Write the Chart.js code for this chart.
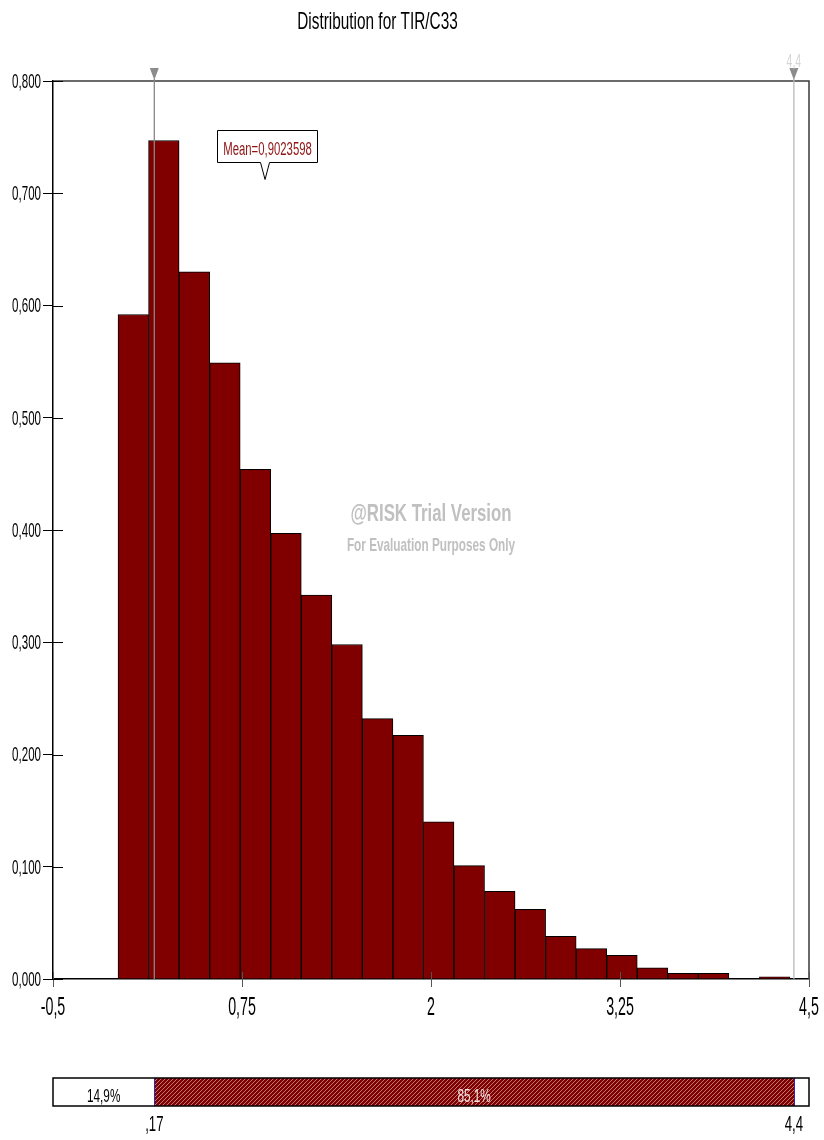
<!DOCTYPE html>
<html>
<head>
<meta charset="utf-8">
<title>Distribution for TIR/C33</title>
<script src="https://cdn.jsdelivr.net/npm/chart.js@4/dist/chart.umd.min.js"></script>
<style>
  html, body { margin: 0; padding: 0; background: #fff; }
  #wrap { position: relative; width: 824px; height: 1140px; }
  #hist { position: absolute; left: 0; top: 0; }
  #band { position: absolute; left: 0; top: 1040px; }
</style>
</head>
<body>
<div id="wrap">
  <canvas id="hist" width="824" height="1040"></canvas>
  <canvas id="band" width="824" height="100"></canvas>
</div>
<script>
// ---- histogram data (relative frequency per bin) ----
const binEdges = [-0.07, 0.132, 0.334, 0.536, 0.738, 0.94, 1.142, 1.344, 1.546, 1.748, 1.95,
                  2.152, 2.354, 2.556, 2.758, 2.96, 3.162, 3.364, 3.566, 3.768, 3.97, 4.172, 4.374];
const binDensity = [0.592, 0.747, 0.630, 0.549, 0.454, 0.397, 0.342, 0.298, 0.232, 0.217, 0.140,
                    0.101, 0.078, 0.062, 0.038, 0.027, 0.021, 0.010, 0.005, 0.005, 0.000, 0.002];

// ---- axes ----
const xTickValues = [-0.5, 0.75, 2, 3.25, 4.5];
const xTickLabels = ['-0,5', '0,75', '2', '3,25', '4,5'];
const yTickStep = 0.1;

// ---- summary statistics ----
const meanValue = 0.9023598;
const meanLabel = 'Mean=0,9023598';
const leftDelimiter = 0.17;
const rightDelimiter = 4.4;
const delimiterLabels = [',17', '4,4'];
const bandEdges = [-0.5, 0.17, 4.4, 4.5];
const bandPercent = [14.9, 85.1, 0];

const titleText = 'Distribution for TIR/C33';
const watermarkLines = ['@RISK Trial Version', 'For Evaluation Purposes Only'];

const FONT = "'Liberation Sans', Arial, sans-serif";
const BAR_FILL = '#800000';

// Draws horizontally compressed text (the report uses a narrow face).
function squeezeText(ctx, text, x, y, opt) {
  ctx.save();
  ctx.font = (opt.bold ? 'bold ' : '') + opt.size + 'px ' + FONT;
  ctx.fillStyle = opt.color || '#000';
  ctx.textAlign = opt.align || 'center';
  ctx.textBaseline = opt.baseline || 'alphabetic';
  ctx.translate(x, y);
  ctx.scale(opt.sx || 1, 1);
  ctx.fillText(text, 0, 0);
  ctx.restore();
}

function fmtPercent(p) { return p.toFixed(1).replace('.', ',') + '%'; }

// Diagonal hatch used for the central band segment.
function hatchPattern(ctx) {
  const s = 4;
  const c = document.createElement('canvas');
  c.width = s; c.height = s;
  const g = c.getContext('2d');
  g.fillStyle = BAR_FILL;
  g.fillRect(0, 0, s, s);
  g.strokeStyle = 'rgba(215,170,170,0.9)';
  g.lineWidth = 0.8;
  g.beginPath();
  g.moveTo(0, s); g.lineTo(s, 0);
  g.moveTo(-1, 1); g.lineTo(1, -1);
  g.moveTo(s - 1, s + 1); g.lineTo(s + 1, s - 1);
  g.stroke();
  return ctx.createPattern(c, 'repeat');
}

const histDecor = {
  id: 'histDecor',
  afterDatasetsDraw(chart) {
    const { ctx, chartArea: a } = chart;
    const xs = chart.scales.x, ys = chart.scales.y;
    ctx.save();

    // frame on top and right
    ctx.strokeStyle = '#3a3a3a';
    ctx.lineWidth = 1.5;
    ctx.beginPath();
    ctx.moveTo(a.left, a.top);
    ctx.lineTo(a.right, a.top);
    ctx.lineTo(a.right, a.bottom);
    ctx.stroke();

    // tick marks crossing into the plot
    ctx.strokeStyle = '#000';
    ctx.lineWidth = 1;
    ys.ticks.forEach(t => {
      const py = Math.round(ys.getPixelForValue(t.value)) + 0.5;
      ctx.beginPath(); ctx.moveTo(a.left, py); ctx.lineTo(a.left + 10, py); ctx.stroke();
    });
    ctx.strokeStyle = '#555';
    xs.ticks.forEach(t => {
      const px = Math.round(xs.getPixelForValue(t.value)) + 0.5;
      ctx.beginPath(); ctx.moveTo(px, a.bottom); ctx.lineTo(px, a.bottom - 7); ctx.stroke();
    });

    // delimiter lines with their markers
    [[leftDelimiter, '#878787'], [rightDelimiter, '#b8b8b8']].forEach(([v, col]) => {
      const px = xs.getPixelForValue(v);
      ctx.strokeStyle = col;
      ctx.lineWidth = 1.3;
      ctx.beginPath(); ctx.moveTo(px, a.top - 2); ctx.lineTo(px, a.bottom); ctx.stroke();
      ctx.fillStyle = '#8c8c8c';
      ctx.beginPath();
      ctx.moveTo(px - 4.5, a.top - 13);
      ctx.lineTo(px + 4.5, a.top - 13);
      ctx.lineTo(px, a.top - 1);
      ctx.closePath();
      ctx.fill();
    });
    squeezeText(ctx, delimiterLabels[1], xs.getPixelForValue(rightDelimiter), a.top - 14,
      { size: 19, sx: 0.55, color: '#d4d4d4' });

    // watermark
    const cx = (a.left + a.right) / 2, cy = (a.top + a.bottom) / 2;
    squeezeText(ctx, watermarkLines[0], cx, cy - 9, { size: 24, sx: 0.7, bold: true, color: '#c0c0c0' });
    squeezeText(ctx, watermarkLines[1], cx, cy + 21, { size: 19, sx: 0.62, bold: true, color: '#c0c0c0' });

    // mean callout
    const m = xs.getPixelForValue(meanValue);
    const bl = Math.round(m - 48) + 0.5, br = Math.round(m + 52) + 0.5;
    const bt = a.top + 49.5, bb = a.top + 81.5;
    ctx.fillStyle = '#fff';
    ctx.strokeStyle = '#000';
    ctx.lineWidth = 1;
    ctx.beginPath();
    ctx.moveTo(bl, bt); ctx.lineTo(br, bt); ctx.lineTo(br, bb);
    ctx.lineTo(m + 4.5, bb); ctx.lineTo(m, bb + 17); ctx.lineTo(m - 4.5, bb);
    ctx.lineTo(bl, bb); ctx.closePath();
    ctx.fill(); ctx.stroke();
    squeezeText(ctx, meanLabel, (bl + br) / 2, bt + 24, { size: 18, sx: 0.63, color: '#8e1414' });

    ctx.restore();
  },
  afterDraw(chart) {
    const { ctx, chartArea: a } = chart;
    const xs = chart.scales.x, ys = chart.scales.y;
    // y tick labels
    ys.ticks.forEach(t => {
      squeezeText(ctx, t.value.toFixed(3).replace('.', ','), a.left - 12, ys.getPixelForValue(t.value) + 1,
        { size: 21, sx: 0.55, align: 'right', baseline: 'middle' });
    });
    // x tick labels
    xs.ticks.forEach(t => {
      const i = xTickValues.indexOf(t.value);
      squeezeText(ctx, xTickLabels[i], xs.getPixelForValue(t.value), a.bottom + 36,
        { size: 25, sx: 0.57 });
    });
    // title
    squeezeText(ctx, titleText, 377.5, 29, { size: 24, sx: 0.64 });
  }
};

const histCanvas = document.getElementById('hist');
new Chart(histCanvas, {
  type: 'bar',
  data: {
    datasets: [{
      data: binDensity.map((v, i) => ({ x: (binEdges[i] + binEdges[i + 1]) / 2, y: v })),
      backgroundColor: BAR_FILL,
      borderColor: '#000',
      borderWidth: 1,
      borderSkipped: 'start',
      barPercentage: 1,
      categoryPercentage: 1
    }]
  },
  options: {
    responsive: false,
    animation: false,
    devicePixelRatio: 1,
    layout: { padding: { top: 81, right: 15, left: 0, bottom: 0 } },
    plugins: { legend: { display: false }, tooltip: { enabled: false }, title: { display: false } },
    scales: {
      x: {
        type: 'linear',
        min: -0.5, max: 4.5,
        offset: false,
        afterBuildTicks: s => { s.ticks = xTickValues.map(v => ({ value: v })); },
        ticks: { display: false },
        grid: { drawOnChartArea: false, drawTicks: true, tickLength: 8, color: '#555', offset: false },
        border: { display: true, color: '#000', width: 1.5 },
        afterFit: s => { s.height = 61; }
      },
      y: {
        min: 0, max: 0.8,
        ticks: { display: false, stepSize: yTickStep },
        grid: { drawOnChartArea: false, drawTicks: true, tickLength: 10, color: '#000' },
        border: { display: true, color: '#000', width: 1.5 },
        afterFit: s => { s.width = 53; }
      }
    }
  },
  plugins: [histDecor]
});

const bandDecor = {
  id: 'bandDecor',
  afterDatasetsDraw(chart) {
    const { ctx, chartArea: a } = chart;
    const xs = chart.scales.x;
    ctx.save();
    // blue delimiter lines
    ctx.strokeStyle = '#2a2aa8';
    ctx.lineWidth = 1;
    [leftDelimiter, rightDelimiter].forEach(v => {
      const px = Math.round(xs.getPixelForValue(v)) + 0.5;
      ctx.beginPath(); ctx.moveTo(px, a.top); ctx.lineTo(px, a.bottom); ctx.stroke();
    });
    // outer border
    ctx.strokeStyle = '#000';
    ctx.lineWidth = 1.5;
    ctx.strokeRect(a.left, a.top, a.right - a.left, a.bottom - a.top);
    // segment percentages
    bandPercent.forEach((p, i) => {
      if (p <= 0) return;
      const c = (xs.getPixelForValue(bandEdges[i]) + xs.getPixelForValue(bandEdges[i + 1])) / 2;
      squeezeText(ctx, fmtPercent(p), c, a.top + 24,
        { size: 19, sx: 0.62, color: i === 1 ? '#f3e4e4' : '#000' });
    });
    // delimiter values under the band
    [leftDelimiter, rightDelimiter].forEach((v, i) => {
      squeezeText(ctx, delimiterLabels[i], xs.getPixelForValue(v), a.bottom + 25, { size: 22, sx: 0.6 });
    });
    ctx.restore();
  }
};

const bandCanvas = document.getElementById('band');
const bandCtx = bandCanvas.getContext('2d');
const bandFills = ['#fff', hatchPattern(bandCtx), '#fff'];
new Chart(bandCanvas, {
  type: 'bar',
  data: {
    labels: [''],
    datasets: bandPercent.map((p, i) => ({
      data: [[bandEdges[i], bandEdges[i + 1]]],
      backgroundColor: bandFills[i],
      borderWidth: 0,
      grouped: false,
      barPercentage: 1,
      categoryPercentage: 1
    }))
  },
  options: {
    indexAxis: 'y',
    responsive: false,
    animation: false,
    devicePixelRatio: 1,
    layout: { padding: { top: 38, left: 53, right: 15, bottom: 0 } },
    plugins: { legend: { display: false }, tooltip: { enabled: false } },
    scales: {
      x: {
        type: 'linear',
        min: -0.5, max: 4.5,
        afterBuildTicks: s => { s.ticks = [leftDelimiter, rightDelimiter].map(v => ({ value: v })); },
        ticks: { display: false },
        grid: { display: false },
        border: { display: false },
        afterFit: s => { s.height = 34; }
      },
      y: { display: false }
    }
  },
  plugins: [bandDecor]
});
</script>
</body>
</html>
